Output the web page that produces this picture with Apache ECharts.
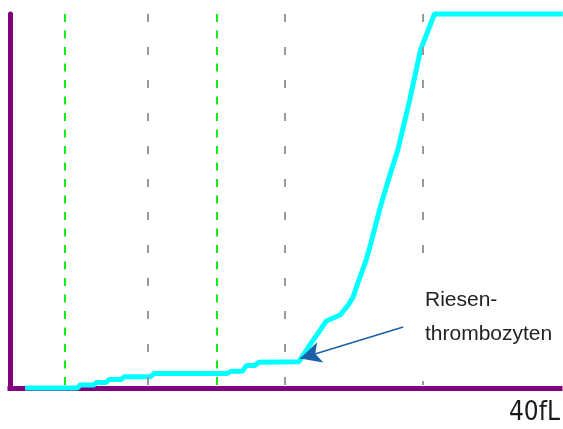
<!DOCTYPE html>
<html>
<head>
<meta charset="utf-8">
<script src="https://cdn.jsdelivr.net/npm/echarts@6/dist/echarts.min.js"></script>
<style>
  html, body { margin: 0; padding: 0; background: #ffffff; }
  #chart { width: 563px; height: 429px; }
</style>
</head>
<body>
<div id="chart"></div>
<script>
// Cumulative platelet volume curve (x in fL, y in %)
const curveX = [1.1, 4.9, 5.1, 6.1, 6.3, 7.0, 7.2, 8.1, 8.3, 10.2, 10.5, 15.8, 16.1, 16.9, 17.2, 17.8, 18.1,
                21.0, 21.9, 22.56, 23.0, 23.5, 24.0, 24.6, 24.95, 25.3, 25.9, 26.25, 26.97, 27.7, 28.2, 29.07, 29.86, 30.87, 40.2];
const curveY = [0, 0, 0.8, 0.8, 1.5, 1.5, 2.3, 2.3, 3.0, 3.0, 3.9, 3.9, 4.5, 4.5, 6.0, 6.0, 6.9,
                7.0, 12.0, 15.5, 17.9, 18.7, 19.5, 22.2, 24.3, 28.1, 34.2, 38.8, 48.9, 57.8, 63.6, 77.0, 90.4, 100, 100];
const thresholdLines = [4, 15];        // green discriminator lines (fL)
const gridLines = [10, 20, 30];         // gray reference lines (fL)
const axisMaxLabel = '40fL';
const annotationLines = ['Riesen-', 'thrombozyten'];
const arrowFrom = [28.6, 16.3];
const arrowTo = [21.1, 7.9];

const curveData = curveX.map((x, i) => [x, curveY[i]]);

const vLine = (x, color, dash) => [
  { coord: [x, 100], lineStyle: { color: color, width: 2, type: dash } },
  { coord: [x, 0] }
];

const markData = []
  .concat(thresholdLines.map(x => vLine(x, '#11ee11', [8, 8.5])))
  .concat(gridLines.map(x => vLine(x, '#9a9a9a', [8, 25])))
  .concat([[
    { coord: arrowFrom, symbol: 'none', lineStyle: { color: '#1a5fa8', width: 1.5, type: 'solid' } },
    { coord: arrowTo, symbol: 'arrow', symbolSize: [16, 21] }
  ]]);

const chart = echarts.init(document.getElementById('chart'), null, { renderer: 'canvas' });
chart.setOption({
  backgroundColor: '#ffffff',
  animation: false,
  grid: { left: 10, right: 0, top: 14, bottom: 41, containLabel: false },
  xAxis: {
    type: 'value', min: 0, max: 40, interval: 10,
    axisLine: { show: true, lineStyle: { color: '#800080', width: 5, cap: 'square' } },
    axisTick: { show: false },
    splitLine: { show: false },
    axisLabel: {
      show: true, showMaxLabel: true, showMinLabel: false,
      formatter: v => (v === 40 ? axisMaxLabel : ''),
      align: 'right', verticalAlign: 'middle', margin: 25,
      fontFamily: '"Liberation Sans Narrow", "DejaVu Sans Condensed", "Liberation Sans", sans-serif',
      fontSize: 26, color: '#1a1a1a'
    }
  },
  yAxis: {
    type: 'value', min: 0, max: 100,
    axisLine: { show: true, lineStyle: { color: '#800080', width: 5 } },
    axisTick: { show: false },
    axisLabel: { show: false },
    splitLine: { show: false }
  },
  series: [{
    type: 'line',
    data: curveData,
    showSymbol: false,
    smooth: false,
    clip: false,
    lineStyle: { color: '#00ffff', width: 5 },
    z: 3,
    markLine: {
      silent: true,
      symbol: ['none', 'none'],
      label: { show: false },
      emphasis: { disabled: true },
      data: markData,
      z: 4
    }
  }],
  graphic: [
    { type: 'rect', z: 100, shape: { x: 410, y: 265, width: 153, height: 116 }, style: { fill: '#ffffff' } },
    { type: 'text', z: 101, x: 425, y: 300,
      style: { text: annotationLines[0], fontSize: 21, fontFamily: '"Liberation Sans", Arial, sans-serif', fill: '#222222', verticalAlign: 'middle' } },
    { type: 'text', z: 101, x: 425, y: 334.5,
      style: { text: annotationLines[1], fontSize: 21, fontFamily: '"Liberation Sans", Arial, sans-serif', fill: '#222222', verticalAlign: 'middle' } }
  ]
});
</script>
</body>
</html>
